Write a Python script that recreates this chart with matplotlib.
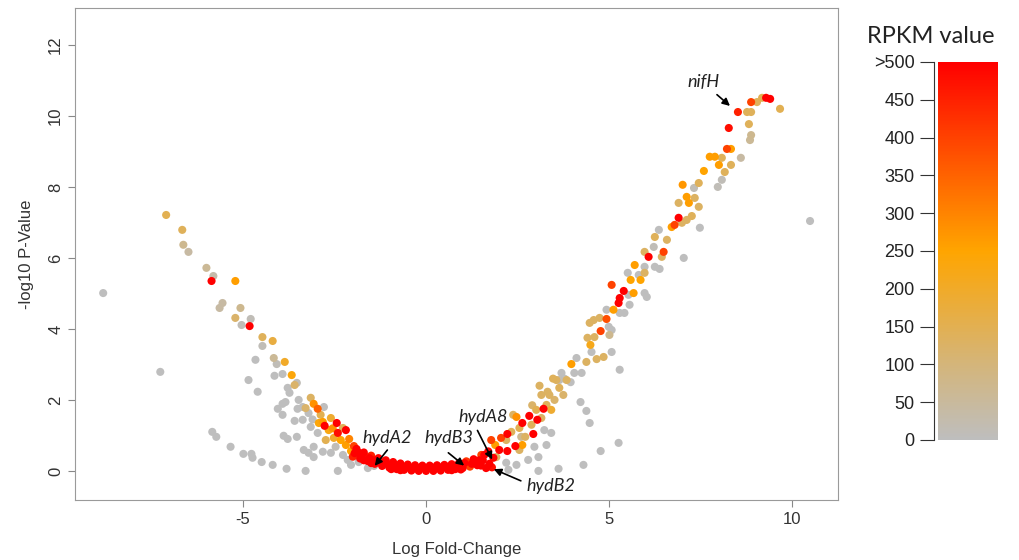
import matplotlib
matplotlib.use('Agg')
import matplotlib.pyplot as plt
from matplotlib.colors import LinearSegmentedColormap, Normalize
from matplotlib.cm import ScalarMappable
import numpy as np

# (log fold-change, -log10 p, RPKM)
left_arm = [(-8.82,5.01,0),(-7.26,2.79,0),(-7.10,7.21,150),(-6.66,6.79,140),(-6.63,6.37,70),
            (-6.49,6.17,40),(-6.00,5.72,60),(-5.81,5.49,30),(-5.86,5.35,500),(-5.21,5.35,260),
            (-5.64,4.59,40),(-5.56,4.73,40),(-5.07,4.59,70),(-5.21,4.31,120),(-4.79,4.28,10),
            (-5.04,4.11,10),(-4.82,4.08,500),(-4.47,3.77,140),(-4.19,3.66,170),(-4.47,3.52,10),
            (-4.66,3.13,0),(-4.16,3.18,60),(-4.08,3.01,10),(-3.86,3.07,200),(-4.14,2.68,0),
            (-3.92,2.73,0),(-3.67,2.70,240),(-4.85,2.56,0),(-4.60,2.23,0),(-3.53,2.48,10),
            (-3.59,2.42,120),(-3.78,2.34,0),(-3.73,2.20,0),(-3.84,1.94,0),(-3.92,1.89,0),
            (-4.05,1.75,0),(-3.48,2.00,0),(-3.51,1.75,0),(-3.07,1.89,280),(-2.96,1.75,350),
            (-3.29,1.77,120),(-2.79,1.80,0),(-3.92,1.58,0),(-3.59,1.41,0),(-3.37,1.44,0),
            (-3.21,1.63,0),(-3.15,1.24,0),(-2.93,1.35,240)]

left_low = [(-5.84,1.10,0),(-5.73,0.96,0),(-3.89,0.99,0),(-3.78,0.90,0),(-3.53,0.96,0),
            (-5.34,0.68,0),(-4.99,0.48,0),(-4.77,0.48,0),(-4.74,0.37,0),(-4.49,0.25,0),
            (-4.19,0.17,0),(-3.81,0.06,0),(-3.29,0.00,0),(-2.41,0.00,0),(-3.34,0.59,0),
            (-3.21,0.51,0),(-3.07,0.68,0),(-3.07,0.39,0),(-2.96,1.07,0),(-2.82,0.54,0),
            (-2.60,0.51,0),(-2.14,0.31,0),(-2.05,0.17,0),(-1.59,0.08,0),(-2.27,0.45,0),
            (-1.84,0.25,0),(-1.42,0.14,10),(-2.47,0.68,10),(-3.37,1.80,0),(-3.10,1.45,0)]

left_base = [(-2.77,1.27,500),(-2.82,1.38,260),(-2.44,1.35,500),(-2.19,1.15,500),(-2.41,1.07,480),
             (-1.97,0.70,400),(-2.33,0.87,250),(-2.52,0.93,200),(-2.66,1.15,230),(-2.19,0.73,260),
             (-3.15,2.06,130),(-2.88,1.58,150),(-2.60,1.49,190),(-2.27,1.21,140),(-2.74,0.87,150),
             (-1.92,0.45,130),(-2.05,0.56,250),(-2.10,0.90,300),(-2.55,1.20,280)]

center_band = [(-1.90,0.62,500),(-1.70,0.52,500),(-1.50,0.43,450),(-1.30,0.36,500),(-1.10,0.30,500),
               (-0.90,0.25,500),(-0.70,0.21,500),(-0.50,0.18,500),(-0.30,0.16,500),(-0.10,0.15,500),
               (0.10,0.15,500),(0.30,0.16,500),(0.50,0.17,500),(0.70,0.19,500),(0.90,0.22,500),
               (1.10,0.27,420),(1.30,0.33,500),
               (-1.80,0.35,500),(-1.60,0.28,500),(-1.40,0.20,500),(-1.20,0.14,500),(-1.00,0.09,500),
               (-0.80,0.05,500),(-0.60,0.03,500),(-0.40,0.01,500),(-0.20,0.00,500),(0.00,0.00,500),
               (0.20,0.00,500),(0.40,0.01,500),(0.60,0.03,500),(0.80,0.05,500),(1.00,0.08,500),
               (1.20,0.12,400),(1.40,0.16,500),
               (-1.75,0.45,500),(-1.45,0.30,500),(-1.15,0.22,500),(-0.85,0.15,500),(-0.55,0.10,500),
               (-0.25,0.07,500),(0.05,0.07,500),(0.35,0.08,500),(0.65,0.10,500),(0.95,0.14,500),
               (1.25,0.20,500),(1.15,0.20,300),(1.05,0.18,260),
               (-1.85,0.52,500),(-1.65,0.40,420),(-1.55,0.36,500),(-1.35,0.27,500),(-1.25,0.25,500),
               (-1.05,0.19,500),(-0.95,0.17,500),(-0.75,0.12,500),(-0.65,0.13,500),(-0.45,0.09,500),
               (-0.35,0.10,500),(-0.15,0.08,500),(0.15,0.09,500),(0.25,0.10,500),(0.45,0.11,500),
               (0.55,0.12,500),(0.75,0.13,500),(0.85,0.15,500),(1.05,0.22,500),(1.35,0.25,500),
               (1.45,0.30,500),(-1.95,0.50,500),(-2.00,0.40,450),(-1.50,0.22,500),(-1.70,0.30,500),
               (-0.95,0.05,500),(-0.70,0.02,500),(0.70,0.02,500),(0.95,0.04,500)]

right_base = [(1.42,0.25,500),(1.59,0.45,500),(1.73,0.20,500),(1.84,0.37,500),(1.64,0.08,500),
              (1.51,0.45,400),(1.78,0.87,400),(1.89,0.73,260),(2.22,1.04,500),(2.22,0.56,500),
              (2.44,0.70,500),(2.63,1.35,500),(2.82,1.55,500),(2.93,1.04,500),(3.04,1.44,500),
              (3.21,1.75,500),(2.63,0.73,260),(2.47,1.52,280),(2.00,0.59,500),(2.05,0.93,400),
              (2.19,0.87,130),(2.33,1.10,140),(2.38,1.58,130),(2.55,1.21,150),(2.71,0.96,130),
              (2.88,1.30,140),(3.01,1.72,150),(3.15,1.49,130),(3.29,1.86,140),(3.37,2.14,130),
              (3.51,2.00,120),(3.64,2.34,140),(3.75,2.14,120),(3.84,2.56,130),(3.42,1.72,190),
              (3.32,2.23,130),(3.56,2.56,130),(3.15,2.14,130),(2.60,0.96,70),(1.92,0.39,130),
              (2.55,0.59,130),(3.10,2.40,130),(3.47,2.60,140),(2.90,1.85,120),
              (1.55,0.30,500),(1.70,0.55,500),(1.50,0.15,500),(1.80,0.10,480)]

right_grey = [(3.07,0.39,0),(3.07,0.00,0),(3.62,0.06,0),(4.30,0.17,0),(4.77,0.56,0),
              (5.26,0.79,0),(4.47,1.35,0),(4.38,1.69,0),(4.22,1.94,0),(3.23,1.15,0),
              (3.42,1.07,0),(2.25,0.03,0),(2.19,0.23,0),(2.47,0.17,0),(2.79,0.31,0),
              (2.96,0.68,0),(3.29,0.73,0),(3.70,2.76,0),(4.05,2.76,0),(4.25,2.76,0),
              (3.64,2.56,10),(4.11,3.18,0),(4.52,3.35,0),(5.29,2.85,0),(5.07,3.35,0),
              (3.78,2.60,0),(3.95,2.50,0)]

right_arm = [(4.85,3.21,130),(4.66,3.15,130),(4.38,3.07,130),(3.97,3.01,260),(4.49,3.55,220),
             (4.60,3.77,130),(4.41,3.75,130),(4.77,3.94,400),(4.99,4.06,0),(5.07,3.97,0),
             (5.01,3.83,70),(4.47,4.17,130),(4.58,4.25,130),(4.74,4.31,130),(4.93,4.28,380),
             (5.12,4.54,260),(4.93,4.54,0),(5.29,4.45,0),(5.42,4.45,0),(5.26,4.73,500),
             (5.29,4.87,500),(5.56,4.68,0),(5.40,5.07,500),(5.07,5.24,400),(5.67,5.01,260),
             (5.53,4.96,0),(5.59,5.38,250),(5.86,5.38,250),(5.51,5.58,0),(5.81,5.52,0),
             (5.97,5.58,130),(5.97,5.75,0),(6.03,4.90,0),(5.97,5.01,0),(6.38,5.69,0),
             (5.70,5.80,260),(6.08,6.03,500),(6.49,6.17,400),(6.44,6.03,130),(6.25,6.59,140),
             (6.22,6.31,10),(6.36,6.79,0),(6.58,6.51,130),(5.97,6.17,130),(6.25,5.75,0),
             (7.04,6.00,0),(6.71,6.87,260),(6.79,6.93,400),(6.90,7.13,500),(6.99,6.99,130),
             (7.12,7.07,130),(7.26,7.18,140),(7.48,6.85,0),(6.90,7.55,130),(7.18,7.55,260),
             (7.12,7.72,260),(7.34,7.69,130),(7.45,7.44,130),(7.32,7.97,10),(7.01,8.06,270),
             (7.45,8.11,140),(7.97,8.00,10),(8.08,8.20,10),(8.16,8.42,140),(8.33,8.62,140),
             (8.00,8.62,260),(7.59,8.45,250),(7.75,8.85,260),(7.89,8.85,260),(8.08,8.82,140),
             (8.22,9.07,400),(8.33,9.07,260),(8.60,8.82,40),(8.27,9.66,480),(8.85,9.32,60),
             (8.88,9.46,70),(8.82,9.77,140),(8.52,10.11,450),(8.77,10.11,140),(8.88,10.11,140),
             (8.88,10.39,400),(9.04,10.39,140),(9.18,10.51,150),(9.29,10.51,500),(9.40,10.48,500),
             (9.67,10.20,150),(10.49,7.04,0)]

# gene labels: name, text position, arrow tail, arrow head
genes = [('nifH', (7.59, 10.96), (7.89, 10.65), (8.36, 10.23)),
         ('hydA2', (-1.05, 0.93), (-1.01, 0.65), (-1.45, 0.08)),
         ('hydB3', (0.62, 0.93), (0.55, 0.56), (1.10, 0.10)),
         ('hydA8', (1.56, 1.52), (1.37, 1.21), (1.84, 0.25)),
         ('hydB2', (3.42, -0.42), (2.66, -0.31), (1.78, 0.08))]

cbar_ticks = [0, 50, 100, 150, 200, 250, 300, 350, 400, 450, 500]
cbar_labels = ['0', '50', '100', '150', '200', '250', '300', '350', '400', '450', '>500']

pts = np.array(left_arm + left_low + left_base + center_band + right_base + right_grey + right_arm)
pts = pts[np.argsort(pts[:, 2], kind='stable')]

cmap = LinearSegmentedColormap.from_list('rpkm', [(0.0, '#bebebe'), (0.2, '#d4b57a'),
                                                  (0.5, '#ffa500'), (1.0, '#ff0000')])
norm = Normalize(0, 500)

plt.rcParams['font.family'] = ['Liberation Sans', 'DejaVu Sans']
plt.rcParams['axes.unicode_minus'] = False

fig = plt.figure(figsize=(10.19, 5.6), dpi=100)
ax = fig.add_axes([0.0736, 0.1071, 0.749, 0.8786])

ax.scatter(pts[:, 0], pts[:, 1], c=pts[:, 2], cmap=cmap, norm=norm, s=34, linewidths=0)

ax.set_xlim(-9.59, 11.26)
ax.set_ylim(-0.82, 13.04)
ax.set_xticks([-5, 0, 5, 10])
ax.set_yticks([0, 2, 4, 6, 8, 10, 12])
ax.tick_params(labelsize=12, length=5, color='#888888', labelcolor='#333333')
for lab in ax.get_yticklabels():
    lab.set_rotation(90)
    lab.set_va('center')
for s in ax.spines.values():
    s.set_color('#9a9a9a')
ax.set_xlabel('Log Fold-Change', fontsize=12, color='#333333', labelpad=11)
ax.set_ylabel('-log10 P-Value', fontsize=12, color='#333333', labelpad=10)

for name, txt, tail, head in genes:
    ax.text(txt[0], txt[1], name, fontsize=13, style='italic', family='Lato',
            ha='center', va='center', color='#222222')
    ax.annotate('', xy=head, xytext=tail,
                arrowprops=dict(arrowstyle='-|>', color='black', lw=1.2, mutation_scale=11))

cax = fig.add_axes([0.9205, 0.2143, 0.0589, 0.675])
cb = fig.colorbar(ScalarMappable(norm=norm, cmap=cmap), cax=cax)
cb.outline.set_visible(False)
cax.yaxis.set_ticks_position('left')
cax.spines['left'].set_visible(True)
cax.spines['left'].set_position(('outward', 3))
cax.spines['left'].set_color('#333333')
cb.set_ticks(cbar_ticks)
cb.set_ticklabels(cbar_labels)
cax.tick_params(labelsize=13, length=10, color='#333333', labelcolor='#222222', pad=4)

fig.text(0.913, 0.934, 'RPKM value', fontsize=17, family='Lato', ha='center', va='center',
         color='#222222')

plt.savefig('out.png', dpi=100)
